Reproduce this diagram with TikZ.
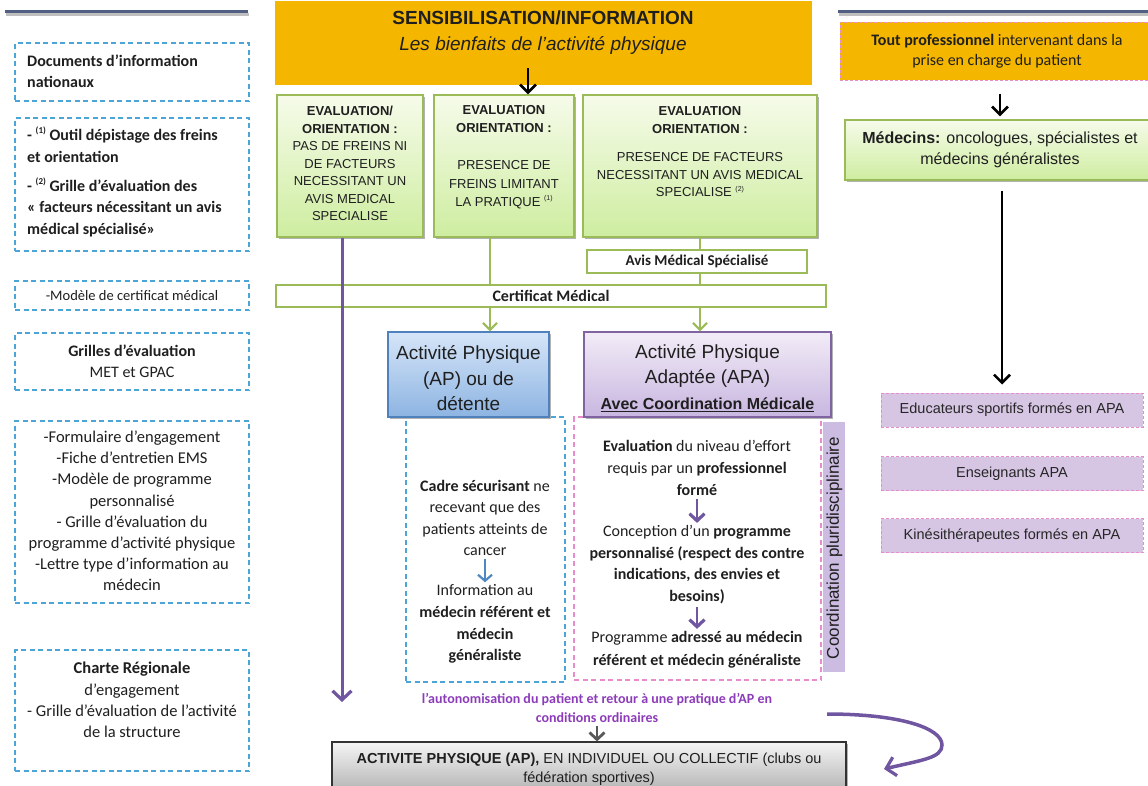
\documentclass[tikz,border=0pt]{standalone}
\usepackage{fontspec}
\setmainfont{Liberation Sans}
\newfontfamily\calib{Carlito}
\usetikzlibrary{arrows.meta,shadows}
\newcommand\fsz[2]{\fontsize{#1}{#2}\selectfont}
\newcommand\supmark[2][7]{\raisebox{0.45em}{\fsz{#1}{#1}(#2)}}
\definecolor{gold}{RGB}{245,182,0}
\definecolor{grline}{RGB}{155,187,89}
\definecolor{grtop}{RGB}{246,251,234}
\definecolor{grbot}{RGB}{206,237,160}
\definecolor{bltop}{RGB}{214,229,248}
\definecolor{blbot}{RGB}{141,180,226}
\definecolor{blline}{RGB}{79,129,189}
\definecolor{putop}{RGB}{242,236,247}
\definecolor{pubot}{RGB}{200,182,224}
\definecolor{puline}{RGB}{128,100,162}
\definecolor{lav}{RGB}{214,198,228}
\definecolor{coordfill}{RGB}{205,188,226}
\definecolor{pinkd}{RGB}{232,140,205}
\definecolor{dblue}{RGB}{75,165,215}
\definecolor{arrpur}{RGB}{112,86,160}
\definecolor{txtpur}{RGB}{140,60,185}
\definecolor{topline}{RGB}{80,95,130}
\begin{document}
\begin{tikzpicture}[x=1pt,y=-1pt,
  txt/.style={inner sep=0pt, align=center, text=black!88},
  shad/.style={drop shadow={shadow xshift=1.5pt, shadow yshift=-2pt, fill=black, opacity=0.3}},
  banner/.style={fill=gold, inner sep=0pt},
  gbox/.style={draw=grline, line width=1.2pt, top color=grtop, bottom color=grbot, shad, inner sep=0pt},
  wbox/.style={draw=grline, line width=1.2pt, fill=white, inner sep=0pt},
  apbox/.style={draw=blline, line width=1.2pt, top color=bltop, bottom color=blbot, shad, inner sep=0pt},
  apabox/.style={draw=puline, line width=1.2pt, top color=putop, bottom color=pubot, shad, inner sep=0pt},
  lbox/.style={draw=dblue, line width=1.2pt, dash pattern=on 5pt off 3.5pt, fill=white, inner sep=0pt},
  dbox/.style={draw=dblue, line width=1.1pt, dash pattern=on 5pt off 3.5pt, inner sep=0pt},
  pbox/.style={draw=pinkd, line width=1.1pt, dash pattern=on 5pt off 3.5pt, inner sep=0pt},
  obox/.style={fill=gold, draw=pinkd, line width=1pt, dash pattern=on 3pt off 2pt, inner sep=0pt},
  lavbox/.style={fill=lav, draw=pinkd, line width=1pt, dash pattern=on 3pt off 2pt, inner sep=0pt, font=\fsz{14.5}{16}, text=black!85},
  coordbox/.style={fill=coordfill, inner sep=0pt},
  graybox/.style={draw=black!80, line width=1.2pt, top color=black!4, bottom color=black!35, shad, inner sep=0pt},
  blkarr/.style={draw=black, line width=2.2pt, -{Straight Barb[length=8pt,width=16pt,line width=2.6pt]}},
  grarr/.style={draw=grline, line width=1.8pt, -{Straight Barb[length=7pt,width=14pt,line width=2.2pt]}},
  grline/.style={draw=grline, line width=1.8pt},
  purarr/.style={draw=arrpur, line width=3pt, -{Straight Barb[length=9pt,width=19pt,line width=3.2pt]}},
  smallpur/.style={draw=arrpur, line width=2.6pt, -{Straight Barb[length=7pt,width=15pt,line width=3.2pt]}, shorten <=3pt, shorten >=2pt},
  smallblue/.style={draw=blline!80!dblue, line width=1.8pt, -{Straight Barb[length=6pt,width=14pt,line width=2.2pt]}, shorten <=3pt, shorten >=2pt},
  smallgray/.style={draw=black!65, line width=2.2pt, -{Straight Barb[length=7pt,width=15pt,line width=2.8pt]}, shorten <=4pt},
  topstrip/.style={draw=topline, line width=3pt}
]
\useasboundingbox (0,0) rectangle (1148,785);
\clip (0,0) rectangle (1148,785);

% cut-off strips at the top
\draw[black!25, line width=3pt] (6,14) -- (249,14);
\draw[topstrip] (5,11) -- (248,11);
\draw[black!25, line width=3pt] (839,14) -- (1148,14);
\draw[topstrip] (838,11) -- (1148,11);

% left column
\node[lbox, minimum width=234, minimum height=58] (l1) at (132,72) {};
\node[txt, anchor=west, align=left, font=\calib\bfseries\fsz{16}{21}] (l1t) at (27,71.5) {Documents d’information\\nationaux};

\node[lbox, minimum width=234, minimum height=133] (l2) at (132,184.5) {};
\node[txt, anchor=west, align=left, font=\calib\bfseries\fsz{16}{21.5}] (l2t) at (27,182) {- \supmark[9]{1} Outil dépistage des freins\\et orientation\\[7.5pt]- \supmark[9]{2} Grille d’évaluation des\\« facteurs nécessitant un avis\\médical spécialisé»};

\node[lbox, minimum width=234, minimum height=29, font=\calib\fsz{14.5}{16}, text=black!88] (l3) at (132,295.5) {-Modèle de certificat médical};

\node[lbox, minimum width=234, minimum height=57] (l4) at (132,361.5) {};
\node[txt, font=\calib\fsz{16}{21}] (l4t) at (132,361.5) {\textbf{Grilles d’évaluation}\\MET et GPAC};

\node[lbox, minimum width=234, minimum height=182] (l5) at (132,512) {};
\node[txt, font=\calib\fsz{16.5}{21.2}] (l5t) at (132,511) {-Formulaire d’engagement\\-Fiche d’entretien EMS\\-Modèle de programme\\personnalisé\\- Grille d’évaluation du\\programme d’activité physique\\-Lettre type d’information au\\médecin};

\node[lbox, minimum width=234, minimum height=121] (l6) at (132,710.5) {};
\node[txt, font=\calib\fsz{16.5}{21.3}] (l6t) at (132,700) {\textbf{Charte Régionale}\\d’engagement\\- Grille d’évaluation de l’activité\\de la structure};

% banner
\node[banner, minimum width=537, minimum height=84] (banner) at (543.5,43) {};
\node[txt, font=\bfseries\fsz{19}{20}] (title) at (543,18) {SENSIBILISATION/INFORMATION};
\node[txt, font=\itshape\fsz{19}{20}] (subtitle) at (543,45) {Les bienfaits de l’activité physique};

% green evaluation boxes
\node[gbox, minimum width=146, minimum height=142] (g1) at (350,166) {};
\node[gbox, minimum width=140, minimum height=142] (g2) at (504,166) {};
\node[gbox, minimum width=234, minimum height=142] (g3) at (700,166) {};
\node[txt, font=\fsz{13}{17.5}] (g1t) at (350,163.5) {\textbf{EVALUATION/}\\\textbf{ORIENTATION :}\\PAS DE FREINS NI\\DE FACTEURS\\NECESSITANT UN\\AVIS MEDICAL\\SPECIALISE};
\node[txt, font=\fsz{13}{18.5}] (g2t) at (504,157) {\textbf{EVALUATION}\\\textbf{ORIENTATION :}\\[18.5pt]PRESENCE DE\\FREINS LIMITANT\\LA PRATIQUE \supmark{1}};
\node[txt, font=\fsz{13}{17.5}] (g3t) at (700,152) {\textbf{EVALUATION}\\\textbf{ORIENTATION :}\\[11pt]PRESENCE DE FACTEURS\\NECESSITANT UN AVIS MEDICAL\\SPECIALISE \supmark{2}};

\coordinate (a0) at (528,68);
\draw[blkarr] (a0) -- (a0 |- g2.north);

% connectors to certificate
\coordinate (c2) at (490,0);
\coordinate (c3) at (700,0);
\node[wbox, minimum width=220, minimum height=23, font=\calib\bfseries\fsz{15}{16}, text=black!88] (avis) at (697,261.5) {Avis Médical Spécialisé};
\node[wbox, minimum width=550, minimum height=22, font=\calib\bfseries\fsz{16}{16}, text=black!88] (cert) at (551,296) {Certificat Médical};
\draw[grline] (g2.south -| c2) -- (cert.north -| c2);
\draw[grline] (g3.south -| c3) -- (avis.north -| c3);
\draw[grline] (avis.south -| c3) -- (cert.north -| c3);

% dashed columns
\node[dbox, minimum width=159, minimum height=265] (cadrebox) at (485.5,549.5) {};
\node[pbox, minimum width=247, minimum height=263] (apabox) at (697.5,548.5) {};
\node[coordbox, minimum width=22, minimum height=250] (coord) at (834,547) {};
\node[txt, rotate=90, font=\fsz{17}{17}] (coordt) at (834.5,548) {Coordination pluridisciplinaire};

% AP / APA boxes
\node[apbox, minimum width=161, minimum height=85] (ap) at (468.5,374.5) {};
\node[txt, font=\fsz{19}{25.5}] (apt) at (468.5,378.5) {Activité Physique\\(AP) ou de\\détente};
\node[apabox, minimum width=247, minimum height=85] (apa) at (707.5,374.5) {};
\node[txt, font=\fsz{19}{25.5}] (apat) at (707.5,378) {Activité Physique\\Adaptée (APA)\\\fsz{16}{25.5}\textbf{\underline{Avec Coordination Médicale}}};
\draw[grarr] (cert.south -| c2) -- (ap.north -| c2);
\draw[grarr] (cert.south -| c3) -- (apa.north -| c3);

% content of AP column
\node[txt, font=\calib\fsz{16}{21.5}] (cadret) at (485,518) {\textbf{Cadre sécurisant} ne\\recevant que des\\patients atteints de\\cancer};
\node[txt, font=\calib\fsz{16}{21.8}] (infot) at (485,624) {Information au\\\textbf{médecin référent et}\\\textbf{médecin}\\\textbf{généraliste}};
\draw[smallblue] (cadret.south) -- (infot.north);

% content of APA column
\node[txt, font=\calib\fsz{16}{22}] (evalt) at (697,468) {\textbf{Evaluation} du niveau d’effort\\requis par un \textbf{professionnel}\\\textbf{formé}};
\node[txt, font=\calib\fsz{16}{21.7}] (concept) at (697,564.5) {Conception d’un \textbf{programme}\\\textbf{personnalisé (respect des contre}\\\textbf{indications, des envies et}\\\textbf{besoins)}};
\node[txt, font=\calib\fsz{16}{23}] (progt) at (697,649.5) {Programme \textbf{adressé au médecin}\\\textbf{référent et médecin généraliste}};
\draw[smallpur] (evalt.south) -- (concept.north);
\draw[smallpur] (concept.south) -- (progt.north);

% right column
\node[obox, minimum width=312, minimum height=58] (rorange) at (996,51) {};
\node[txt, font=\calib\fsz{16}{20}] (rot) at (997,51) {\textbf{Tout professionnel} intervenant dans la\\prise en charge du patient};
\node[gbox, minimum width=307, minimum height=60] (med) at (998.5,150) {};
\node[txt, font=\fsz{16}{21}] (medt) at (1000,149.5) {\textbf{Médecins:} oncologues, spécialistes et\\médecins généralistes};
\node[lavbox, minimum width=262, minimum height=34] (educ) at (1012,410) {Educateurs sportifs formés en APA};
\node[lavbox, minimum width=262, minimum height=34] (ens) at (1012,473.5) {Enseignants APA};
\node[lavbox, minimum width=262, minimum height=34] (kine) at (1012,535.5) {Kinésithérapeutes formés en APA};
\coordinate (c4) at (1000,0);
\coordinate (c5) at (1002,0);
\draw[blkarr, shorten <=13pt, shorten >=3pt] (rorange.south -| c4) -- (med.north -| c4);
\draw[blkarr, shorten <=10pt, shorten >=8pt] (med.south -| c5) -- (educ.north -| c5);

% bottom
\node[txt, font=\calib\bfseries\fsz{14}{19}, text=txtpur] (purt) at (597,707.5) {l’autonomisation du patient et retour à une pratique d’AP en\\conditions ordinaires};
\node[graybox, minimum width=514, minimum height=60] (bottom) at (589,772) {};
\node[txt, font=\fsz{14.5}{19}] (bott) at (589,769.5) {\textbf{ACTIVITE PHYSIQUE (AP),} EN INDIVIDUEL OU COLLECTIF (clubs ou\\fédération sportives)};
\draw[smallgray] (purt.south) -- (purt.south |- bottom.north);

% long purple arrow from first evaluation box
\coordinate (pend) at (342,702);
\draw[purarr] (g1.south -| pend) -- (pend);

% curved return arrow
\coordinate (cs) at (827,714);
\coordinate (cm) at (942,745);
\coordinate (ce) at (884,769);
\draw[purarr, line width=3.5pt] (cs) .. controls (900,714) and (942,728) .. (cm) .. controls (942,758) and (922,760) .. (ce);
\end{tikzpicture}
\end{document}
